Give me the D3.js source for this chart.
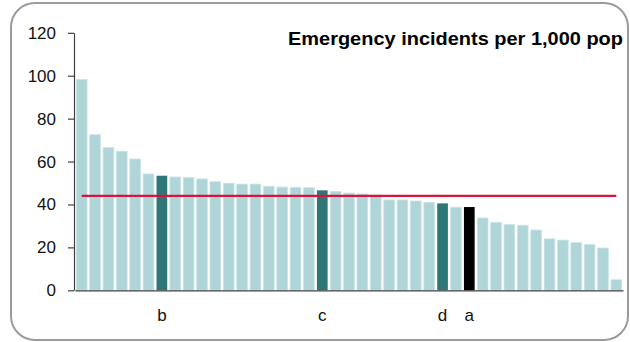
<!DOCTYPE html>
<html>

<head>
    <title>Emergency incidents per 1,000 pop</title>
    <meta http-equiv="Content-Type" content="text/html;charset=utf-8" />
    <script src="https://cdn.jsdelivr.net/npm/d3@7/dist/d3.min.js"></script>
    <style>
        body {
            margin: 0;
            background: #fff;
        }

        text {
            font-family: "Liberation Sans", Arial, sans-serif;
        }
    </style>
</head>

<body>
    <svg width="630" height="342" id="mainsvg"></svg>
    <script>
        // data (sorted, one bar per area)
        const values = [98.3, 72.5, 66.5, 64.8, 61.2, 54.2, 53.4, 52.8, 52.5, 51.9, 50.6,
            49.9, 49.5, 49.5, 48.5, 48.1, 48.0, 47.8, 46.6, 46.1, 45.3, 44.9, 44.4,
            42.1, 42.1, 41.6, 41.0, 40.5, 38.7, 38.8, 33.7, 31.7, 30.6, 30.3, 28.1,
            24.0, 23.4, 22.2, 21.4, 19.7, 4.9];
        // labelled bars: index -> label
        const labelIndex = [6, 18, 27, 29];
        const labelText = ['b', 'c', 'd', 'a'];
        const yTicks = [0, 20, 40, 60, 80, 100, 120];
        const average = 44;
        const title = 'Emergency incidents per 1,000 pop';

        const svg = d3.select('#mainsvg');

        // rounded frame
        svg.append('rect')
            .attr('x', 11).attr('y', 3).attr('width', 617).attr('height', 337)
            .attr('rx', 24).attr('ry', 24)
            .attr('fill', 'white').attr('stroke', '#9b9b9b').attr('stroke-width', 2);

        const xScale = d3.scaleBand()
            .domain(values.map((d, i) => i))
            .range([75, 623])
            .paddingInner(0.2).paddingOuter(0.1);
        const yScale = d3.scaleLinear().domain([0, 120]).range([290.3, 32.8]);

        const colorOf = i => {
            const k = labelIndex.indexOf(i);
            if (k < 0) return '#afd5d8';
            return labelText[k] === 'a' ? '#000000' : '#2f7777';
        };

        // bars
        svg.append('g').selectAll('rect').data(values).enter().append('rect')
            .attr('x', (d, i) => xScale(i))
            .attr('y', d => yScale(d))
            .attr('width', xScale.bandwidth())
            .attr('height', d => yScale(0) - yScale(d))
            .attr('fill', (d, i) => colorOf(i))
            .attr('stroke', (d, i) => labelIndex.indexOf(i) < 0 ? '#c9e4e6' : 'none')
            .attr('stroke-width', 0.8);

        // axes
        const yAxis = d3.axisLeft(yScale).tickValues(yTicks).tickSize(6).tickSizeOuter(0).tickPadding(12);
        const yAxisGroup = svg.append('g').attr('transform', 'translate(74, 0)').call(yAxis);
        const xAxis = d3.axisBottom(xScale).tickSize(0).tickSizeOuter(0).tickPadding(18)
            .tickFormat(i => {
                const k = labelIndex.indexOf(i);
                return k < 0 ? '' : labelText[k];
            });
        const xAxisGroup = svg.append('g').attr('transform', `translate(0, ${yScale(0)})`).call(xAxis);
        svg.selectAll('.domain, .tick line').attr('stroke', '#404040').attr('stroke-width', 1.2);
        svg.selectAll('.tick text').attr('fill', '#111').attr('font-size', '17px')
            .attr('font-family', '"Liberation Sans", Arial, sans-serif');
        xAxisGroup.selectAll('.tick text').attr('dy', '0.72em');

        // average line
        svg.append('line')
            .attr('x1', xScale(0) + xScale.bandwidth() / 2)
            .attr('x2', xScale(values.length - 1) + xScale.bandwidth() / 2)
            .attr('y1', yScale(average)).attr('y2', yScale(average))
            .attr('stroke', '#d7143c').attr('stroke-width', 2.2);

        // title
        svg.append('text')
            .attr('x', 623).attr('y', 45)
            .attr('text-anchor', 'end')
            .attr('font-size', '18px').attr('font-weight', 'bold').attr('fill', '#000')
            .attr('textLength', 335).attr('lengthAdjust', 'spacingAndGlyphs')
            .text(title);
    </script>
</body>

</html>
